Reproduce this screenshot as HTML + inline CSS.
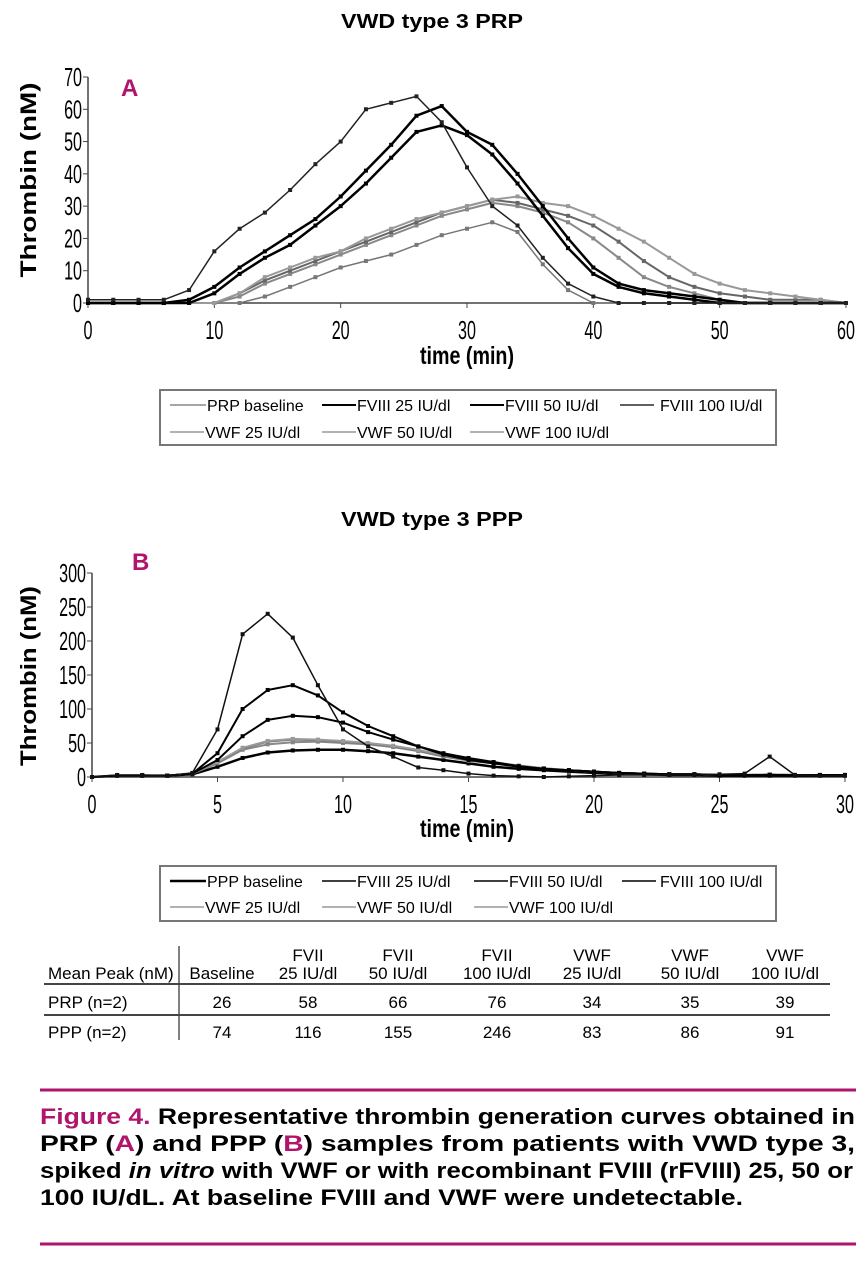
<!DOCTYPE html>
<html><head><meta charset="utf-8"><style>
body{margin:0;background:#fff}
svg{display:block}
text{font-family:"Liberation Sans",sans-serif}
.b{font-weight:bold}
.cap{font-weight:bold;font-size:22px}
</style></head><body>
<svg id="s" width="868" height="1280" viewBox="0 0 868 1280">
<text class="b" x="432" y="28" font-size="20" text-anchor="middle" textLength="182" lengthAdjust="spacingAndGlyphs">VWD type 3 PRP</text>
<text class="b" x="121" y="96" font-size="24" fill="#b0146c">A</text>
<text class="b" transform="translate(36,180) rotate(-90)" font-size="22" text-anchor="middle" textLength="195" lengthAdjust="spacingAndGlyphs">Thrombin (nM)</text>
<text x="467" y="364" font-size="25" font-weight="bold" text-anchor="middle" textLength="94" lengthAdjust="spacingAndGlyphs">time (min)</text>
<g id="ga"></g>
<text class="b" x="432" y="526" font-size="20" text-anchor="middle" textLength="182" lengthAdjust="spacingAndGlyphs">VWD type 3 PPP</text>
<text class="b" x="132" y="570" font-size="24" fill="#b0146c">B</text>
<text class="b" transform="translate(36,676) rotate(-90)" font-size="22" text-anchor="middle" textLength="180" lengthAdjust="spacingAndGlyphs">Thrombin (nM)</text>
<text x="467" y="837" font-size="25" font-weight="bold" text-anchor="middle" textLength="94" lengthAdjust="spacingAndGlyphs">time (min)</text>
<g id="gb"></g>

<g>
<rect x="160" y="390" width="616" height="55" fill="none" stroke="#777" stroke-width="2"/>
<g font-size="16">
<line x1="170" y1="405" x2="206" y2="405" stroke="#888" stroke-width="1.5"/><text x="207" y="411">PRP baseline</text>
<line x1="322" y1="405" x2="356" y2="405" stroke="#000" stroke-width="2"/><text x="357" y="411">FVIII 25 IU/dl</text>
<line x1="470" y1="405" x2="504" y2="405" stroke="#000" stroke-width="2"/><text x="505" y="411">FVIII 50 IU/dl</text>
<line x1="620" y1="405" x2="654" y2="405" stroke="#000" stroke-width="1.2"/><text x="660" y="411">FVIII 100 IU/dl</text>
<line x1="170" y1="432" x2="204" y2="432" stroke="#999" stroke-width="1.5"/><text x="205" y="438">VWF 25 IU/dl</text>
<line x1="322" y1="432" x2="356" y2="432" stroke="#999" stroke-width="1.5"/><text x="357" y="438">VWF 50 IU/dl</text>
<line x1="470" y1="432" x2="504" y2="432" stroke="#999" stroke-width="1.5"/><text x="505" y="438">VWF 100 IU/dl</text>
</g></g>

<g>
<rect x="160" y="866" width="616" height="55" fill="none" stroke="#777" stroke-width="2"/>
<g font-size="16">
<line x1="170" y1="881" x2="206" y2="881" stroke="#000" stroke-width="2.5"/><text x="207" y="887">PPP baseline</text>
<line x1="322" y1="881" x2="356" y2="881" stroke="#000" stroke-width="1.5"/><text x="357" y="887">FVIII 25 IU/dl</text>
<line x1="474" y1="881" x2="508" y2="881" stroke="#000" stroke-width="1.5"/><text x="509" y="887">FVIII 50 IU/dl</text>
<line x1="622" y1="881" x2="656" y2="881" stroke="#000" stroke-width="1.5"/><text x="660" y="887">FVIII 100 IU/dl</text>
<line x1="170" y1="907" x2="204" y2="907" stroke="#999" stroke-width="1.5"/><text x="205" y="913">VWF 25 IU/dl</text>
<line x1="322" y1="907" x2="356" y2="907" stroke="#999" stroke-width="1.5"/><text x="357" y="913">VWF 50 IU/dl</text>
<line x1="474" y1="907" x2="508" y2="907" stroke="#999" stroke-width="1.5"/><text x="509" y="913">VWF 100 IU/dl</text>
</g></g>

<g font-size="17" text-anchor="middle">
<line x1="179" y1="946" x2="179" y2="1040" stroke="#555" stroke-width="1.5"/>
<line x1="44" y1="984" x2="830" y2="984" stroke="#444" stroke-width="2"/>
<line x1="44" y1="1015" x2="830" y2="1015" stroke="#444" stroke-width="2"/>
<text x="48" y="979" text-anchor="start">Mean Peak (nM)</text>
<text x="222" y="979">Baseline</text>
<text x="308" y="961">FVII</text><text x="308" y="979">25 IU/dl</text>
<text x="398" y="961">FVII</text><text x="398" y="979">50 IU/dl</text>
<text x="497" y="961">FVII</text><text x="497" y="979">100 IU/dl</text>
<text x="592" y="961">VWF</text><text x="592" y="979">25 IU/dl</text>
<text x="690" y="961">VWF</text><text x="690" y="979">50 IU/dl</text>
<text x="785" y="961">VWF</text><text x="785" y="979">100 IU/dl</text>
<text x="48" y="1008" text-anchor="start">PRP (n=2)</text>
<text x="222" y="1008">26</text><text x="308" y="1008">58</text><text x="398" y="1008">66</text><text x="497" y="1008">76</text><text x="592" y="1008">34</text><text x="690" y="1008">35</text><text x="785" y="1008">39</text>
<text x="48" y="1038" text-anchor="start">PPP (n=2)</text>
<text x="222" y="1038">74</text><text x="308" y="1038">116</text><text x="398" y="1038">155</text><text x="497" y="1038">246</text><text x="592" y="1038">83</text><text x="690" y="1038">86</text><text x="785" y="1038">91</text>
</g>

<line x1="40" y1="1090" x2="856" y2="1090" stroke="#b0146c" stroke-width="3"/>
<g>
<text class="cap" x="40" y="1124" textLength="815" lengthAdjust="spacingAndGlyphs"><tspan fill="#b0146c">Figure 4.</tspan> Representative thrombin generation curves obtained in</text>
<text class="cap" x="40" y="1151" textLength="815" lengthAdjust="spacingAndGlyphs">PRP (<tspan fill="#b0146c">A</tspan>) and PPP (<tspan fill="#b0146c">B</tspan>) samples from patients with VWD type 3,</text>
<text class="cap" x="40" y="1178" textLength="813" lengthAdjust="spacingAndGlyphs">spiked <tspan font-style="italic">in vitro</tspan> with VWF or with recombinant FVIII (rFVIII) 25, 50 or</text>
<text class="cap" x="40" y="1205" textLength="703" lengthAdjust="spacingAndGlyphs">100 IU/dL. At baseline FVIII and VWF were undetectable.</text>
</g>
<line x1="40" y1="1244" x2="856" y2="1244" stroke="#b0146c" stroke-width="3"/>
</svg>
<script>
// Chart A data (time step 2 min, 0..60)
const timesA = [0,2,4,6,8,10,12,14,16,18,20,22,24,26,28,30,32,34,36,38,40,42,44,46,48,50,52,54,56,58,60];
const prpBaseline = [0,0,0,0,0,0,0,2,5,8,11,13,15,18,21,23,25,22,12,4,0,0,0,0,0,0,0,0,0,0,0];
const aFviii25 = [0,0,0,0,0,3,9,14,18,24,30,37,45,53,55,52,46,37,27,17,9,5,3,2,1,0,0,0,0,0,0];
const aFviii50 = [0,0,0,0,1,5,11,16,21,26,33,41,49,58,61,53,49,40,30,20,11,6,4,3,2,1,0,0,0,0,0];
const aFviii100 = [1,1,1,1,4,16,23,28,35,43,50,60,62,64,56,42,30,24,14,6,2,0,0,0,0,0,0,0,0,0,0];
const aVwf25 = [0,0,0,0,0,0,2,6,9,12,15,18,21,24,27,29,31,30,28,25,20,14,8,5,3,1,0,0,0,0,0];
const aVwf50 = [0,0,0,0,0,0,3,7,10,13,16,19,22,25,28,30,32,31,29,27,24,19,13,8,5,3,2,1,1,1,0];
const aVwf100 = [0,0,0,0,0,0,3,8,11,14,16,20,23,26,28,30,32,33,31,30,27,23,19,14,9,6,4,3,2,1,0];
const yTicksA = [0,10,20,30,40,50,60,70];
const xTicksA = [0,10,20,30,40,50,60];
// Chart B data (time step 1 min, 0..30)
const timesB = [0,1,2,3,4,5,6,7,8,9,10,11,12,13,14,15,16,17,18,19,20,21,22,23,24,25,26,27,28,29,30];
const pppBaseline = [0,2,2,2,4,15,28,36,39,40,40,38,35,30,25,20,15,12,10,8,6,5,4,3,3,2,2,2,2,2,2];
const bFviii25 = [0,2,2,2,5,25,60,84,90,88,80,66,55,45,35,28,22,16,12,10,8,6,5,4,4,3,3,3,3,3,3];
const bFviii50 = [0,2,2,2,5,35,100,128,135,120,95,75,60,45,33,25,20,15,12,10,8,6,5,4,4,3,3,3,3,3,3];
const bFviii100 = [0,3,3,2,6,70,210,240,205,135,70,45,30,14,10,5,2,1,0,1,2,3,3,3,3,4,5,30,3,2,2];
const bVwf25 = [0,2,2,2,5,20,40,48,51,52,50,48,44,38,30,24,20,16,13,10,8,6,5,4,4,3,3,4,3,3,3];
const bVwf50 = [0,2,2,2,5,21,42,52,55,54,52,49,45,39,31,25,20,16,13,10,8,6,5,4,4,3,3,4,3,3,3];
const bVwf100 = [0,2,2,2,5,22,43,53,56,55,53,50,46,40,32,25,21,17,13,10,8,6,5,4,4,3,3,4,3,3,3];
const yTicksB = [0,50,100,150,200,250,300];
const xTicksB = [0,5,10,15,20,25,30];

const NS='http://www.w3.org/2000/svg';
function mk(tag,attrs,parent){const e=document.createElementNS(NS,tag);for(const k in attrs)e.setAttribute(k,attrs[k]);parent.appendChild(e);return e;}

function drawChart(g, cfg){
  const sx=v=>cfg.x0+(v-cfg.xmin)/(cfg.xmax-cfg.xmin)*(cfg.x1-cfg.x0);
  const sy=v=>cfg.y0-(v-cfg.ymin)/(cfg.ymax-cfg.ymin)*(cfg.y0-cfg.y1);
  const ax=mk('line',{x1:cfg.x0,y1:cfg.y0,x2:cfg.x1,y2:cfg.y0,stroke:'#444','stroke-width':1.5},g);
  
  
  const ay=mk('line',{x1:cfg.x0,y1:cfg.y0,x2:cfg.x0,y2:cfg.y1,stroke:'#444','stroke-width':1.5},g);
  
  
  cfg.yt.forEach(v=>{
    mk('line',{x1:cfg.x0-5,x2:cfg.x0,y1:sy(v),y2:sy(v),stroke:'#444'},g);
    const t=mk('text',{transform:'translate('+(cfg.x0-6)+','+(sy(v)+9)+') scale(0.62,1)','font-size':26,'text-anchor':'end'},g);
    t.textContent=v;
    
    
  });
  cfg.xt.forEach(v=>{
    mk('line',{x1:sx(v),x2:sx(v),y1:cfg.y0,y2:cfg.y0+5,stroke:'#444'},g);
    const t=mk('text',{transform:'translate('+sx(v)+','+(cfg.y0+36)+') scale(0.62,1)','font-size':26,'text-anchor':'middle'},g);
    t.textContent=v;
    
    
  });
  cfg.series.forEach(s=>{
    const pts=cfg.xs.map((x,i)=>sx(x).toFixed(1)+','+sy(s.v[i]).toFixed(1)).join(' ');
    const p=mk('polyline',{points:pts,fill:'none',stroke:s.c,'stroke-width':s.w,'stroke-linejoin':'round'},g);
    
    
    cfg.xs.forEach((x,i)=>{
      const m=mk('rect',{x:sx(x)-2,y:sy(s.v[i])-2,width:4,height:4,fill:s.c},g);
      
      
    });
  });
}
drawChart(document.getElementById('ga'),{x0:88,x1:846,y0:303,y1:77,xmin:0,xmax:60,ymin:0,ymax:70,yt:yTicksA,xt:xTicksA,xs:timesA,series:[
 {n:'line-prp-baseline',v:prpBaseline,c:'#777',w:1.5},
 {n:'line-vwf-25',v:aVwf25,c:'#888',w:2},
 {n:'line-vwf-50',v:aVwf50,c:'#666',w:2},
 {n:'line-vwf-100',v:aVwf100,c:'#999',w:2},
 {n:'line-fviii-25',v:aFviii25,c:'#000',w:2.5},
 {n:'line-fviii-50',v:aFviii50,c:'#000',w:2.5},
 {n:'line-fviii-100',v:aFviii100,c:'#222',w:1.5}]});
drawChart(document.getElementById('gb'),{x0:92,x1:845,y0:777,y1:573,xmin:0,xmax:30,ymin:0,ymax:300,yt:yTicksB,xt:xTicksB,xs:timesB,series:[
 {n:'line-ppp-baseline',v:pppBaseline,c:'#000',w:2.5},
 {n:'line-b-vwf-25',v:bVwf25,c:'#888',w:2},
 {n:'line-b-vwf-50',v:bVwf50,c:'#777',w:2},
 {n:'line-b-vwf-100',v:bVwf100,c:'#999',w:2},
 {n:'line-b-fviii-25',v:bFviii25,c:'#000',w:2},
 {n:'line-b-fviii-50',v:bFviii50,c:'#000',w:2},
 {n:'line-b-fviii-100',v:bFviii100,c:'#111',w:1.5}]});
</script>
</body></html>
